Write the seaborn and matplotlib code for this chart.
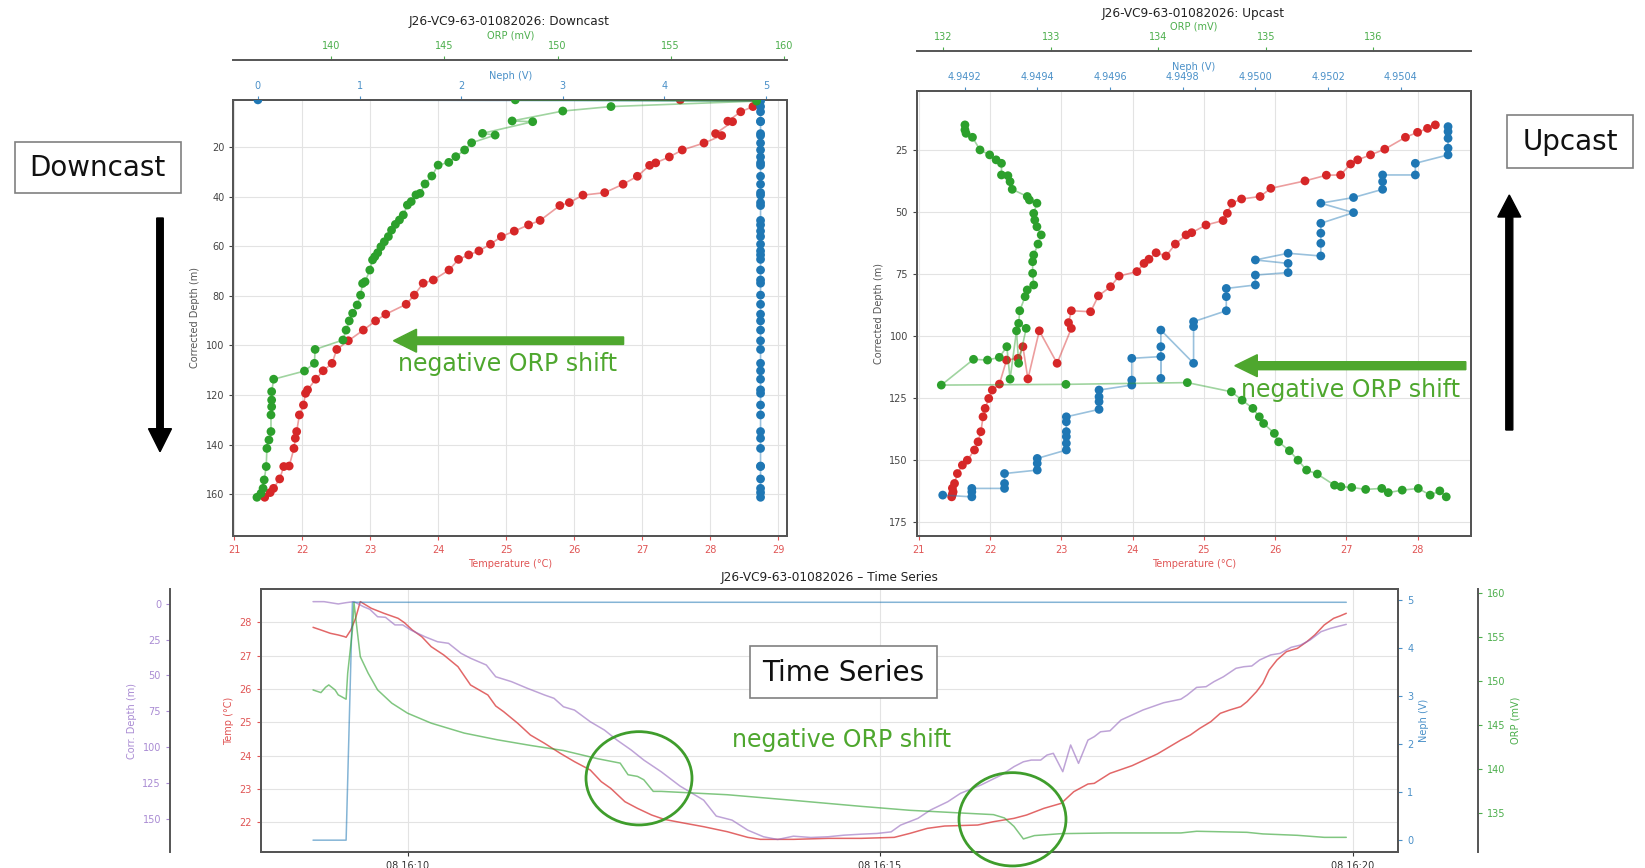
import matplotlib
matplotlib.use('Agg')
import numpy as np
import pandas as pd
import matplotlib.pyplot as plt
import matplotlib.dates as mdates
from matplotlib.patches import Rectangle, Ellipse, FancyArrow
from matplotlib.ticker import FormatStrFormatter
import seaborn as sns

# ---------------- downcast profile ----------------
down_temp_depth = [1.0, 1.5, 3.7, 5.8, 9.6, 9.8, 14.6, 15.4, 18.4, 21.2,
                   24.0, 26.4, 27.4, 31.8, 35.0, 38.4, 39.4, 42.4, 43.6, 49.6,
                   51.4, 53.9, 56.1, 59.2, 61.9, 63.5, 65.3, 69.6, 73.6, 74.9,
                   79.7, 83.4, 87.4, 90.1, 93.8, 98.1, 101.6, 107.2, 110.2, 113.6,
                   117.9, 119.3, 124.0, 128.0, 134.7, 137.4, 141.5, 148.6, 148.8, 153.8,
                   157.6, 159.3, 161.2]
down_temp = [27.56, 28.70, 28.63, 28.45, 28.26, 28.33, 28.08, 28.17, 27.91, 27.59,
             27.40, 27.20, 27.11, 26.93, 26.72, 26.45, 26.13, 25.93, 25.79, 25.50,
             25.33, 25.12, 24.93, 24.77, 24.60, 24.45, 24.30, 24.16, 23.93, 23.78,
             23.65, 23.53, 23.23, 23.08, 22.90, 22.68, 22.51, 22.44, 22.31, 22.20,
             22.08, 22.05, 22.02, 21.96, 21.92, 21.90, 21.88, 21.81, 21.73, 21.67,
             21.58, 21.53, 21.45]
down_neph = [0.0, 4.947, 4.947, 4.947, 4.947, 4.947, 4.947, 4.947, 4.947, 4.947,
             4.947, 4.947, 4.947, 4.947, 4.947, 4.947, 4.947, 4.947, 4.947, 4.947,
             4.947, 4.947, 4.947, 4.947, 4.947, 4.947, 4.947, 4.947, 4.947, 4.947,
             4.947, 4.947, 4.947, 4.947, 4.947, 4.947, 4.947, 4.947, 4.947, 4.947,
             4.947, 4.947, 4.947, 4.947, 4.947, 4.947, 4.947, 4.947, 4.947, 4.947,
             4.947, 4.947, 4.947]
down_orp_depth = [1.0, 1.5, 3.7, 5.5, 9.5, 9.8, 14.5, 15.2, 18.3, 21.2,
                  23.9, 26.2, 27.3, 31.7, 34.9, 38.7, 39.3, 42.0, 43.4, 47.4,
                  49.4, 51.2, 53.5, 56.1, 58.2, 60.2, 62.6, 64.2, 65.5, 69.6,
                  74.3, 75.0, 79.7, 83.7, 87.0, 90.1, 93.8, 97.8, 101.6, 107.2,
                  110.3, 113.6, 118.6, 122.0, 124.7, 128.0, 134.7, 138.1, 141.5, 148.8,
                  154.2, 157.6, 159.6, 161.2]
down_orp = [148.13, 158.80, 152.36, 150.23, 147.99, 148.90, 146.68, 147.24, 146.20, 145.89,
            145.50, 145.19, 144.72, 144.44, 144.14, 143.92, 143.74, 143.53, 143.36, 143.18,
            143.01, 142.83, 142.66, 142.52, 142.34, 142.19, 142.05, 141.92, 141.82, 141.70,
            141.49, 141.38, 141.29, 141.14, 140.94, 140.79, 140.65, 140.51, 139.28, 139.25,
            138.81, 137.45, 137.36, 137.36, 137.36, 137.33, 137.33, 137.24, 137.15, 137.12,
            137.03, 136.98, 136.89, 136.71]

# ---------------- upcast profile (time order, bottom -> top) ----------------
up_temp_depth = [165.0, 164.0, 163.0, 161.5, 159.6, 155.6, 152.2, 150.2, 146.1, 142.8,
                 138.7, 132.7, 129.3, 125.3, 121.9, 119.5, 109.8, 109.1, 104.4, 117.4,
                 98.0, 111.1, 97.0, 94.7, 89.9, 90.3, 83.9, 80.2, 75.9, 74.1,
                 70.8, 69.1, 66.5, 67.8, 63.0, 59.3, 58.4, 55.3, 53.5, 50.6,
                 46.5, 44.8, 43.8, 40.5, 37.5, 35.2, 35.1, 30.7, 29.0, 27.0,
                 24.7, 19.9, 17.9, 16.3, 14.9]
up_temp = [21.46, 21.47, 21.48, 21.47, 21.50, 21.54, 21.61, 21.68, 21.78, 21.83,
           21.87, 21.90, 21.93, 21.98, 22.03, 22.13, 22.23, 22.39, 22.46, 22.53,
           22.69, 22.94, 23.14, 23.10, 23.14, 23.41, 23.52, 23.69, 23.81, 24.06,
           24.16, 24.23, 24.33, 24.47, 24.60, 24.75, 24.83, 25.03, 25.27, 25.33,
           25.39, 25.53, 25.79, 25.94, 26.42, 26.72, 26.92, 27.06, 27.16, 27.34,
           27.54, 27.83, 28.00, 28.14, 28.25]
up_orp_depth = [165.0, 162.6, 164.3, 161.6, 162.3, 163.3, 161.6, 162.0, 161.2, 160.9,
                160.3, 155.8, 154.2, 150.2, 146.4, 142.8, 139.4, 135.4, 132.7, 129.3,
                126.0, 122.6, 118.9, 119.6, 119.9, 109.5, 109.8, 108.7, 104.4, 117.5,
                98.0, 111.1, 97.0, 95.0, 89.9, 84.2, 81.5, 79.5, 74.8, 70.1,
                67.4, 63.0, 59.3, 56.0, 53.3, 50.6, 46.5, 45.2, 43.8, 40.9,
                37.8, 35.4, 35.1, 30.4, 29.0, 27.0, 25.0, 19.9, 18.3, 16.9,
                14.9]
up_orp = [136.68, 136.62, 136.53, 136.42, 136.27, 136.14, 136.08, 135.93, 135.80, 135.70,
          135.64, 135.48, 135.38, 135.30, 135.22, 135.12, 135.08, 134.98, 134.94, 134.88,
          134.78, 134.68, 134.27, 133.14, 131.98, 132.28, 132.41, 132.52, 132.59, 132.62,
          132.68, 132.70, 132.77, 132.70, 132.71, 132.76, 132.78, 132.84, 132.83, 132.83,
          132.84, 132.88, 132.91, 132.87, 132.85, 132.84, 132.87, 132.80, 132.78, 132.64,
          132.62, 132.60, 132.54, 132.54, 132.49, 132.43, 132.34, 132.27, 132.21, 132.20,
          132.20]
up_neph_depth = [164.3, 165.0, 163.0, 161.6, 161.6, 159.6, 155.6, 154.2, 151.5, 149.5,
                 146.1, 143.4, 140.7, 138.7, 134.7, 132.7, 129.7, 126.6, 124.6, 121.9,
                 119.9, 117.9, 109.1, 108.4, 117.2, 104.4, 97.7, 111.1, 96.3, 94.3,
                 89.9, 84.2, 80.9, 79.5, 75.5, 74.5, 70.8, 69.4, 66.7, 67.8,
                 62.7, 58.6, 54.6, 50.3, 46.5, 44.2, 40.9, 37.8, 35.1, 35.1,
                 30.4, 27.0, 24.3, 20.3, 17.6, 15.6]
up_neph = [4.94914, 4.94922, 4.94922, 4.94922, 4.94931, 4.94931, 4.94931, 4.94940, 4.94940, 4.94940,
           4.94948, 4.94948, 4.94948, 4.94948, 4.94948, 4.94948, 4.94957, 4.94957, 4.94957, 4.94957,
           4.94966, 4.94966, 4.94966, 4.94974, 4.94974, 4.94974, 4.94974, 4.94983, 4.94983, 4.94983,
           4.94992, 4.94992, 4.94992, 4.95000, 4.95000, 4.95009, 4.95009, 4.95000, 4.95009, 4.95018,
           4.95018, 4.95018, 4.95018, 4.95027, 4.95018, 4.95027, 4.95035, 4.95035, 4.95035, 4.95044,
           4.95044, 4.95053, 4.95053, 4.95053, 4.95053, 4.95053]

# ---------------- time series (seconds after 16:09:00) ----------------
ts_start = '2026-01-08 16:09:00'
ts_depth_sec = [0, 7, 16, 21, 26, 32, 36, 41, 46, 52, 57, 62, 71, 79, 86, 94, 100, 110, 116, 126,
                136, 147, 153, 159, 166, 176, 185, 193, 202, 210, 221, 233, 248, 256, 266, 276, 286, 295, 305, 316,
                327, 337, 348, 358, 367, 373, 384, 392, 403, 411, 424, 437, 445, 451, 456, 462, 466, 470, 476, 481,
                486, 492, 496, 500, 506, 513, 527, 540, 551, 555, 561, 567, 572, 578, 586, 591, 596, 601, 608, 614,
                621, 627, 633, 640, 646, 652, 656]
ts_depth = [-1.4, -1.4, 0.2, -0.7, -1.4, 2.1, 3.9, 9.1, 9.5, 14.8, 14.8, 18.3, 23.0, 26.5, 27.6, 34.6, 38.0, 42.7, 50.9, 54.3,
            58.9, 63.6, 65.9, 71.8, 74.1, 82.2, 88.0, 95.0, 101.9, 108.9, 117.0, 127.0, 136.8, 147.9, 150.7, 157.7, 162.3, 164.2, 161.9, 162.8,
            162.3, 161.2, 160.5, 160.0, 158.9, 154.2, 149.5, 143.7, 137.9, 132.1, 126.3, 119.3, 113.5, 110.1, 108.9, 108.9, 105.4, 104.2, 117.0, 98.4,
            111.2, 95.0, 92.6, 89.2, 88.5, 81.0, 74.0, 69.0, 66.5, 63.6, 58.3, 57.8, 54.3, 50.9, 45.0, 43.9, 43.4, 39.2, 35.7, 34.6,
            30.4, 28.8, 25.3, 19.5, 17.2, 15.5, 14.4]
ts_temp_sec = [0, 5, 11, 16, 20, 21, 24, 27, 30, 37, 45, 54, 58, 63, 69, 75, 83, 92, 100, 111,
               116, 121, 130, 138, 147, 157, 166, 176, 183, 189, 198, 206, 215, 223, 233, 248, 263, 276, 284, 305,
               327, 348, 369, 379, 390, 401, 422, 432, 445, 453, 464, 475, 483, 492, 496, 506, 520, 536, 551, 557,
               563, 570, 576, 582, 589, 593, 599, 603, 607, 612, 618, 625, 631, 636, 642, 648, 652, 656]
ts_temp = [27.85, 27.77, 27.67, 27.62, 27.57, 27.55, 27.77, 28.12, 28.62, 28.42, 28.27, 28.12, 27.99, 27.77, 27.57, 27.27, 27.02, 26.67, 26.12, 25.82,
           25.49, 25.32, 24.97, 24.62, 24.37, 24.07, 23.82, 23.57, 23.22, 23.02, 22.62, 22.42, 22.22, 22.09, 22.00, 21.87, 21.72, 21.55, 21.49, 21.49,
           21.52, 21.52, 21.55, 21.67, 21.82, 21.89, 21.92, 22.02, 22.12, 22.22, 22.42, 22.57, 22.92, 23.15, 23.17, 23.47, 23.70, 24.05, 24.47, 24.62,
           24.82, 25.02, 25.27, 25.37, 25.47, 25.62, 25.92, 26.17, 26.57, 26.87, 27.12, 27.22, 27.42, 27.62, 27.92, 28.12, 28.19, 28.27]
ts_orp_sec = [0, 5, 8, 10, 14, 16, 21, 22, 25, 26, 28, 30, 35, 41, 50, 60, 75, 96, 117, 138,
              159, 181, 195, 200, 206, 210, 216, 221, 263, 305, 348, 379, 411, 432, 439, 445, 451, 458, 475, 506,
              551, 561, 593, 603, 625, 642, 656]
ts_orp = [148.97, 148.67, 149.28, 149.54, 148.97, 148.41, 147.92, 150.87, 155.77, 158.87, 155.77, 152.75, 150.87, 148.97, 147.47, 146.33, 145.20, 144.07, 143.31, 142.67,
          142.09, 141.15, 140.66, 139.34, 139.15, 138.77, 137.45, 137.45, 137.07, 136.43, 135.75, 135.30, 135.00, 134.81, 134.43, 133.48, 132.05, 132.43, 132.65, 132.73,
          132.73, 132.92, 132.80, 132.62, 132.46, 132.23, 132.23]
ts_neph_sec = [0, 21, 25, 656]
ts_neph = [0.0, 0.0, 4.95, 4.95]

# ---------------- style ----------------
sns.set_style('ticks')
plt.rcParams['font.family'] = ['DejaVu Sans']
plt.rcParams['font.size'] = 7
plt.rcParams['axes.labelsize'] = 7
plt.rcParams['xtick.labelsize'] = 7
plt.rcParams['ytick.labelsize'] = 7

RED, GREEN, BLUE, PURPLE = '#d62728', '#2ca02c', '#1f77b4', '#9467bd'
RED_T, GREEN_T, BLUE_T, PURPLE_T = '#e05555', '#4cae4c', '#4a90c8', '#a98bd3'
ANN = '#4ea72e'
EDGE = '#555555'

fig = plt.figure(figsize=(16.45, 8.68), dpi=100)


def profile(ax, x, y, color):
    sns.lineplot(x=x, y=y, sort=False, estimator=None, color=color,
                 alpha=0.45, linewidth=1.2, ax=ax)
    sns.scatterplot(x=x, y=y, color=color, s=40, edgecolor='none', ax=ax, zorder=3)


def frame(ax):
    for s in ax.spines.values():
        s.set_color(EDGE)
        s.set_linewidth(1.4)


def only_top(ax):
    for k in ('left', 'right', 'bottom'):
        ax.spines[k].set_visible(False)


# ---------------- downcast ----------------
ax1 = fig.add_axes([0.1419, 0.3825, 0.3365, 0.5023])
profile(ax1, down_temp, down_temp_depth, RED)
ax1n = ax1.twiny()
profile(ax1n, down_neph, down_temp_depth, BLUE)
ax1o = ax1.twiny()
ax1o.spines['top'].set_position(('outward', 28.8))
profile(ax1o, down_orp, down_orp_depth, GREEN)

ax1.set_xlim(20.99, 29.13)
ax1.set_ylim(176.8, 1.05)
ax1.set_xticks(range(21, 30))
ax1.set_yticks(range(20, 161, 20))
ax1n.set_xlim(-0.241, 5.207)
ax1n.set_xticks(range(0, 6))
ax1o.set_xlim(135.67, 160.14)
ax1o.set_xticks([140, 145, 150, 155, 160])

# ---------------- upcast ----------------
ax2 = fig.add_axes([0.5574, 0.3825, 0.3368, 0.5130])
profile(ax2, up_temp, up_temp_depth, RED)
ax2n = ax2.twiny()
profile(ax2n, up_neph, up_neph_depth, BLUE)
ax2o = ax2.twiny()
ax2o.spines['top'].set_position(('outward', 28.8))
profile(ax2o, up_orp, up_orp_depth, GREEN)

ax2.set_xlim(20.972, 28.75)
ax2.set_ylim(180.8, 1.1)
ax2.set_xticks(range(21, 29))
ax2.set_yticks(range(25, 176, 25))
ax2n.set_xlim(4.949069, 4.950593)
ax2n.set_xticks([4.9492, 4.9494, 4.9496, 4.9498, 4.9500, 4.9502, 4.9504])
ax2n.xaxis.set_major_formatter(FormatStrFormatter('%.4f'))
ax2o.set_xlim(131.753, 136.91)
ax2o.set_xticks([132, 133, 134, 135, 136])

for ax, an, ao in ((ax1, ax1n, ax1o), (ax2, ax2n, ax2o)):
    frame(ax)
    frame(an)
    frame(ao)
    only_top(ao)
    ax.grid(True, color='#e3e3e3', linewidth=0.8)
    ax.set_axisbelow(True)
    ax.set_xlabel('Temperature (°C)', color=RED_T, labelpad=3)
    ax.set_ylabel('Corrected Depth (m)', color='#555555')
    ax.tick_params(axis='x', colors=RED_T, labelcolor=RED_T, length=3)
    ax.tick_params(axis='y', colors='#444444', length=3)
    an.set_xlabel('Neph (V)', color=BLUE_T, labelpad=1.5)
    an.tick_params(axis='x', colors=BLUE_T, length=3)
    ao.set_xlabel('ORP (mV)', color=GREEN_T, labelpad=1.5)
    ao.tick_params(axis='x', colors=GREEN_T, length=3)
    an.set_ylabel('')
    ao.set_ylabel('')

# ---------------- time series ----------------
t0 = pd.Timestamp(ts_start)
t_depth = t0 + pd.to_timedelta(ts_depth_sec, unit='s')
t_temp = t0 + pd.to_timedelta(ts_temp_sec, unit='s')
t_orp = t0 + pd.to_timedelta(ts_orp_sec, unit='s')
t_neph = t0 + pd.to_timedelta(ts_neph_sec, unit='s')

ax3 = fig.add_axes([0.1587, 0.01878, 0.6913, 0.3023])
sns.lineplot(x=t_temp, y=ts_temp, color=RED, alpha=0.7, linewidth=1.1, estimator=None, ax=ax3)

ax3d = ax3.twinx()
sns.lineplot(x=t_depth, y=ts_depth, color=PURPLE, alpha=0.6, linewidth=1.1, estimator=None, ax=ax3d)
ax3d.yaxis.tick_left()
ax3d.yaxis.set_label_position('left')
ax3d.spines['left'].set_position(('outward', 65.5))
ax3d.spines['right'].set_visible(False)
ax3d.spines['top'].set_visible(False)
ax3d.spines['bottom'].set_visible(False)

ax3n = ax3.twinx()
sns.lineplot(x=t_neph, y=ts_neph, color=BLUE, alpha=0.55, linewidth=1.1, estimator=None, ax=ax3n)

ax3o = ax3.twinx()
sns.lineplot(x=t_orp, y=ts_orp, color=GREEN, alpha=0.6, linewidth=1.1, estimator=None, ax=ax3o)
ax3o.spines['right'].set_position(('outward', 57.2))
for k in ('left', 'top', 'bottom'):
    ax3o.spines[k].set_visible(False)

ax3.set_xlim(pd.Timestamp('2026-01-08 16:08:27'), pd.Timestamp('2026-01-08 16:20:29'))
ax3.xaxis.set_major_locator(mdates.MinuteLocator(byminute=[10, 15, 20]))
ax3.xaxis.set_major_formatter(mdates.DateFormatter('%d %H:%M'))
ax3.set_ylim(21.12, 28.99)
ax3.set_yticks(range(22, 29))
ax3d.set_ylim(172.7, -10.0)
ax3d.set_yticks(range(0, 151, 25))
ax3n.set_ylim(-0.24, 5.22)
ax3n.set_yticks(range(0, 6))
ax3o.set_ylim(130.6, 160.4)
ax3o.set_yticks([135, 140, 145, 150, 155, 160])

for a in (ax3, ax3d, ax3n, ax3o):
    frame(a)
ax3.grid(True, color='#e3e3e3', linewidth=0.8)
ax3.set_axisbelow(True)
ax3.set_xlabel('')
ax3.set_ylabel('Temp (°C)', color=RED_T)
ax3.tick_params(axis='y', colors=RED_T, length=3)
ax3.tick_params(axis='x', colors='#333333', length=3)
ax3d.set_ylabel('Corr. Depth (m)', color=PURPLE_T)
ax3d.tick_params(axis='y', colors=PURPLE_T, length=3)
ax3n.set_ylabel('Neph (V)', color=BLUE_T)
ax3n.tick_params(axis='y', colors=BLUE_T, length=3)
ax3o.set_ylabel('ORP (mV)', color=GREEN_T)
ax3o.tick_params(axis='y', colors=GREEN_T, length=3)

# ---------------- overlay: titles and annotations (pixel space) ----------------
ov = fig.add_axes([0, 0, 1, 1], zorder=20)
ov.set_xlim(0, 1645)
ov.set_ylim(868, 0)
ov.axis('off')
ov.patch.set_alpha(0)

title_kw = dict(fontsize=8.7, ha='center', va='center', color='#222222')
ov.text(509, 21.5, 'J26-VC9-63-01082026: Downcast', **title_kw)
ov.text(1193, 14, 'J26-VC9-63-01082026: Upcast', **title_kw)
ov.text(829, 577, 'J26-VC9-63-01082026 \u2013 Time Series', **title_kw)

box_kw = dict(facecolor='white', edgecolor='#808080', linewidth=1.2)
for (x0, y0, x1, y1, label) in ((15, 141.7, 180.7, 192.7, 'Downcast'),
                                (1507.3, 115, 1632.7, 167.7, 'Upcast'),
                                (750, 645.7, 936.7, 698.3, 'Time Series')):
    ov.add_patch(Rectangle((x0, y0), x1 - x0, y1 - y0, **box_kw))
    ov.text((x0 + x1) / 2, (y0 + y1) / 2 + 1, label, fontsize=20, ha='center', va='center', color='#111111')

ov.add_patch(FancyArrow(160, 218, 0, 233.7, width=6.5, head_width=23, head_length=23,
                        length_includes_head=True, color='black'))
ov.add_patch(FancyArrow(1509.3, 430, 0, -235, width=7, head_width=23, head_length=22,
                        length_includes_head=True, color='black'))
ov.add_patch(FancyArrow(623.6, 340.7, -230.1, 0, width=7.5, head_width=23, head_length=23,
                        length_includes_head=True, color=ANN))
ov.add_patch(FancyArrow(1465.8, 365.7, -231, 0, width=8, head_width=22, head_length=22.5,
                        length_includes_head=True, color=ANN))

shift_kw = dict(fontsize=17, ha='center', va='center', color=ANN)
ov.text(508, 364, 'negative ORP shift', **shift_kw)
ov.text(1351, 390, 'negative ORP shift', **shift_kw)
ov.text(842, 740, 'negative ORP shift', **shift_kw)

ov.add_patch(Ellipse((639, 778.3), 106, 93.3, fill=False, edgecolor='#3f9d2c', linewidth=2))
ov.add_patch(Ellipse((1012.5, 819.3), 107, 93.3, fill=False, edgecolor='#3f9d2c', linewidth=2))

fig.savefig('out.png', dpi=100)
plt.close(fig)
